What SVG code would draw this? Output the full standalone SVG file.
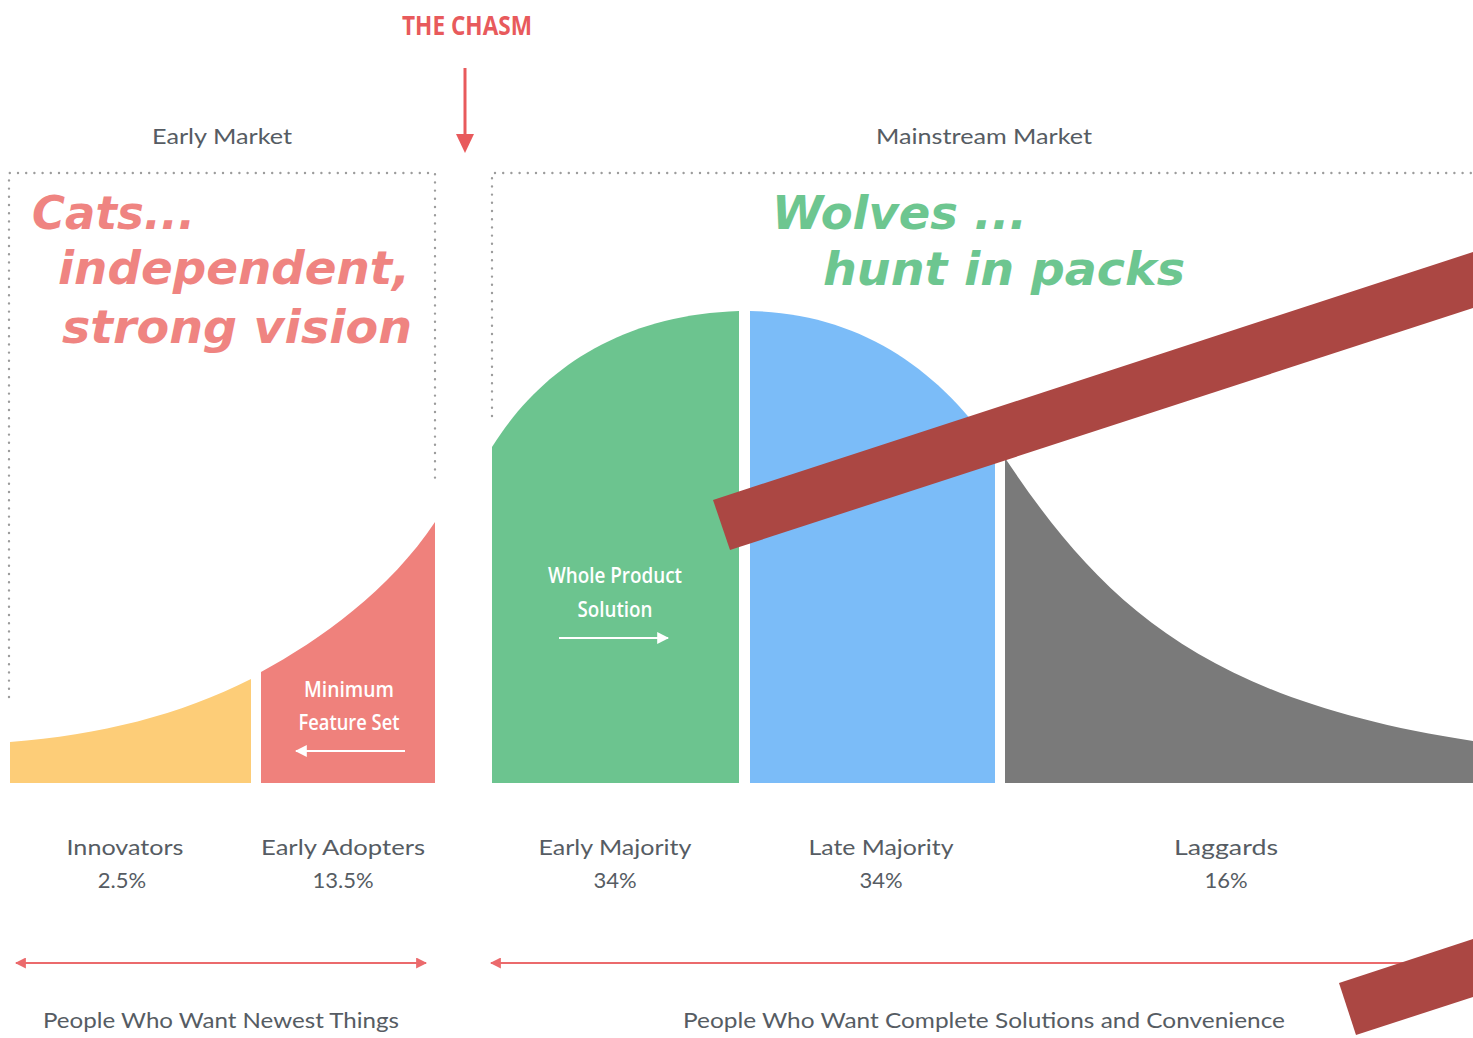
<svg xmlns="http://www.w3.org/2000/svg" width="1473" height="1038" viewBox="0 0 1473 1038">
<defs>
<style>
.lbl{font-family:Lato,"Open Sans","Liberation Sans",sans-serif;font-size:22px;fill:#565c63;text-anchor:middle}
.cond{font-family:"Open Sans","Liberation Sans",sans-serif;font-size:22px;fill:#ffffff;text-anchor:middle;font-weight:600}
.big{font-family:"DejaVu Sans",sans-serif;font-size:47px;font-weight:bold;font-style:italic}
.dot{fill:none;stroke:#9c9c9c;stroke-width:2.4;stroke-linecap:round;stroke-dasharray:0 8.2}
.pink{stroke:#eb6a6c;stroke-width:2.2;fill:none}
.white{stroke:#ffffff;stroke-width:2.2;fill:none}
</style>
<marker id="pa" viewBox="0 0 10 10" refX="9" refY="5" markerWidth="11" markerHeight="11" markerUnits="userSpaceOnUse" orient="auto-start-reverse"><path d="M0,0 L10,5 L0,10 Z" fill="#eb6a6c"/></marker>
<marker id="wa" viewBox="0 0 10 10" refX="9" refY="5" markerWidth="12" markerHeight="12" markerUnits="userSpaceOnUse" orient="auto-start-reverse"><path d="M0,0 L10,5 L0,10 Z" fill="#ffffff"/></marker>
</defs>
<rect width="1473" height="1038" fill="#ffffff"/>

<g id="chasm">
<text x="467" y="35" font-family="'Open Sans','Liberation Sans',sans-serif" font-size="27" font-weight="bold" fill="#e85a5c" text-anchor="middle" textLength="130" lengthAdjust="spacingAndGlyphs">THE CHASM</text>
<line x1="465" y1="68" x2="465" y2="137" stroke="#e85a5c" stroke-width="3"/>
<polygon points="456,134 474,134 465,153" fill="#e85a5c"/>
</g>

<g id="early-market">
<text class="lbl" x="222" y="144" textLength="140" lengthAdjust="spacingAndGlyphs">Early Market</text>
<path class="dot" d="M9,697 V173 H435 V480"/>
</g>
<g id="mainstream-market">
<text class="lbl" x="984" y="144" textLength="216" lengthAdjust="spacingAndGlyphs">Mainstream Market</text>
<path class="dot" d="M492,416 V173 H1473"/>
</g>

<g id="innovators">
<path d="M10,742 C100,735 180,715 251,679 L251,783 L10,783 Z" fill="#fdcd78"/>
<text class="lbl" x="125" y="855" textLength="117" lengthAdjust="spacingAndGlyphs">Innovators</text>
<text class="lbl" x="122" y="888">2.5%</text>
</g>
<g id="early-adopters">
<path d="M261,672 C320,640 390,590 435,522 L435,783 L261,783 Z" fill="#ef817c"/>
<text class="cond" x="349" y="697" textLength="90" lengthAdjust="spacingAndGlyphs">Minimum</text>
<text class="cond" x="349" y="730" textLength="101" lengthAdjust="spacingAndGlyphs">Feature Set</text>
<line class="white" x1="405" y1="751" x2="296" y2="751" marker-end="url(#wa)"/>
<text class="lbl" x="343" y="855" textLength="164" lengthAdjust="spacingAndGlyphs">Early Adopters</text>
<text class="lbl" x="343" y="888">13.5%</text>
</g>
<g id="early-majority">
<path d="M492,447 C540,370 620,315 739,311 L739,783 L492,783 Z" fill="#6cc48f"/>
<text class="cond" x="615" y="583" textLength="134" lengthAdjust="spacingAndGlyphs">Whole Product</text>
<text class="cond" x="615" y="617" textLength="75" lengthAdjust="spacingAndGlyphs">Solution</text>
<line class="white" x1="559" y1="638" x2="668" y2="638" marker-end="url(#wa)"/>
<text class="lbl" x="615" y="855" textLength="153" lengthAdjust="spacingAndGlyphs">Early Majority</text>
<text class="lbl" x="615" y="888">34%</text>
</g>
<g id="late-majority">
<path d="M750,311 C860,313 940,370 995,452 L995,783 L750,783 Z" fill="#7bbcf8"/>
<text class="lbl" x="881" y="855" textLength="145" lengthAdjust="spacingAndGlyphs">Late Majority</text>
<text class="lbl" x="881" y="888">34%</text>
</g>
<g id="laggards">
<path d="M1005,458 C1100,600 1200,700 1473,741 L1473,783 L1005,783 Z" fill="#7a7a7a"/>
<text class="lbl" x="1226" y="855" textLength="104" lengthAdjust="spacingAndGlyphs">Laggards</text>
<text class="lbl" x="1226" y="888">16%</text>
</g>

<g id="connectors">
<line class="pink" x1="16" y1="963" x2="426" y2="963" marker-start="url(#pa)" marker-end="url(#pa)"/>
<line class="pink" x1="491" y1="963" x2="1470" y2="963" marker-start="url(#pa)"/>
</g>

<g id="bottom-labels">
<text class="lbl" x="221" y="1028" textLength="356" lengthAdjust="spacingAndGlyphs">People Who Want Newest Things</text>
<text class="lbl" x="984" y="1028" textLength="602" lengthAdjust="spacingAndGlyphs">People Who Want Complete Solutions and Convenience</text>
</g>

<g id="cats">
<text class="big" fill="#ef8481" x="32" y="229" textLength="163" lengthAdjust="spacingAndGlyphs">Cats...</text>
<text class="big" fill="#ef8481" x="58" y="284" textLength="352" lengthAdjust="spacingAndGlyphs">independent,</text>
<text class="big" fill="#ef8481" x="62" y="343" textLength="350" lengthAdjust="spacingAndGlyphs">strong vision</text>
</g>
<g id="wolves">
<text class="big" fill="#6dc690" x="772" y="229" textLength="255" lengthAdjust="spacingAndGlyphs">Wolves ...</text>
<text class="big" fill="#6dc690" x="823" y="285" textLength="362" lengthAdjust="spacingAndGlyphs">hunt in packs</text>
</g>

<g id="bars">
<polygon points="713,500 1473,252 1473,308 730,550" fill="#ab4743"/>
<polygon points="1339,983 1473,939 1473,997 1356,1035" fill="#ab4743"/>
</g>
</svg>
